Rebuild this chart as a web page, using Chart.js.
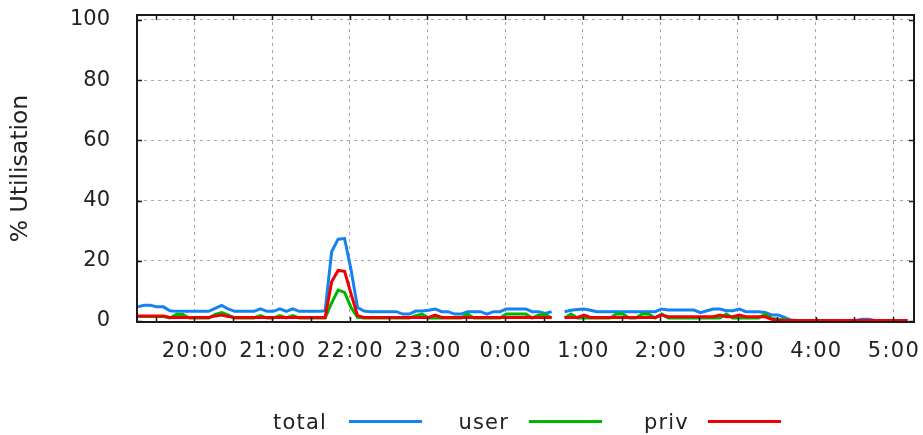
<!DOCTYPE html>
<html><head><meta charset="utf-8">
<script src="https://cdn.jsdelivr.net/npm/chart.js@4.4.1/dist/chart.umd.min.js"></script>
<style>html,body{margin:0;padding:0;background:#fff;}#wrap{width:923px;height:435px;}</style>
</head><body><div id="wrap"><canvas id="c" width="923" height="435"></canvas></div>
<script>
// ---- data ----
const seriesNames = ['total', 'user', 'priv'];
const seriesColors = ['#1482f0', '#00b400', '#f00000'];
const startMinute = 19 * 60 + 16;   // first sample 19:16
const sampleStep = 5;               // minutes between samples
const total = [4.7,5.2,5.2,4.7,4.7, 3.4,3.2,3.2,3.2,3.2,3.2,3.2, 4.2,5.2,4.0, 3.2,3.2,3.2,3.2, 4.0, 3.2,3.2, 4.0, 3.2, 4.0, 3.2,3.2,3.2,3.2, 3.4,
  23.0,27.2,27.4,17.0,4.5, 3.3, 3.1,3.1,3.1,3.1,3.1, 2.3,2.3, 3.3,3.3, 3.6,4.0, 3.1,3.1, 2.3,2.3, 3.1,3.1,3.1, 2.3, 3.1,3.1, 4.0,4.0,4.0,4.0, 3.1, 3.1,2.5, 3.1,
  null,
  3.1,3.6,3.8,4.0,3.6, 3.1,3.1,3.1,3.1,3.1, 3.1,3.1,3.1,3.1,3.1, 4.0, 3.65,3.65,3.65,3.65,3.65, 2.8,3.4,4.0,4.0,3.4,3.4,4.0, 3.1,3.1,3.1, 2.8,2.0,2.0,1.2,0.3,
  0.15,0.15,0.15,0.15,0.15,0.15,0.15,0.15,0.15,0.15, 0.6,0.6, 0.15,0.15,0.15,0.15,0.15,0.15];
const user = [1.5,1.5,1.5,1.5,1.5, 1.0,2.2,2.2,1.0,1.0,1.0,1.0, 2.2,2.8,2.0, 1.0,1.0,1.0,1.0, 1.8, 1.0,1.0, 1.8, 1.0, 1.8, 1.0,1.0,1.0,1.0,1.0,
  6.0,10.3,9.5,4.5,1.2, 1.0,1.0,1.0,1.0,1.0,1.0,1.0,1.0, 1.8,2.3, 1.0,1.0,1.0,1.0,1.0,1.0, 2.3, 1.0,1.0,1.0,1.0,1.0, 2.3,2.3,2.3,2.3, 1.0, 2.0,2.2, 1.0,
  null,
  1.0,2.3, 1.0,1.0,1.0,1.0,1.0,1.0, 2.3,2.3, 1.0,1.0, 2.3,2.3, 1.0, 2.3, 1.0,1.0,1.0,1.0,1.0,1.0,1.0,1.0,1.0, 2.3, 1.0,1.0,1.0,1.0,1.0, 2.3,0.8,0.6,0.5,0.1,
  0.05,0.05,0.05,0.05,0.05,0.05,0.05,0.05,0.05,0.05,0.05,0.05,0.05,0.05,0.05,0.05,0.05,0.05];
const priv = [1.7,1.7,1.7,1.7,1.7, 1.2,1.2,1.2,1.2,1.2,1.2,1.2, 1.7,2.0,1.5, 1.2,1.2,1.2,1.2,1.2,1.2,1.2,1.2,1.2,1.2,1.2,1.2,1.2,1.2,1.2,
  13.0,16.8,16.5,9.0,1.8, 1.2,1.2,1.2,1.2,1.2,1.2,1.2,1.2,1.2,1.2,1.2, 2.0, 1.2,1.2,1.2,1.2,1.2,1.2,1.2,1.2,1.2,1.2,1.2,1.2,1.2,1.2,1.2,1.2,1.2,1.2,
  null,
  1.2,1.2,1.2, 2.0, 1.2,1.2,1.2,1.2,1.2,1.2,1.2,1.2,1.2,1.2,1.2, 2.0, 1.4,1.4,1.4,1.4,1.4,1.4,1.4,1.4, 2.0, 1.4,1.4, 2.0, 1.4,1.4,1.4,1.4, 0.6,0.15,
  0.15,0.15,0.15,0.15,0.15,0.15,0.15,0.15,0.15,0.15,0.15,0.15,0.15,0.15,0.15,0.15,0.15,0.15,0.15,0.15];
const hourValues = [1200,1260,1320,1380,1440,1500,1560,1620,1680,1740]; // minutes from 00:00 of first day
const hourLabels = ['20:00','21:00','22:00','23:00','0:00','1:00','2:00','3:00','4:00','5:00'];
const yTickValues = [0,20,40,60,80,100];
const yTitle = '% Utilisation';

// ---- chart ----
const FAMILY = "'DejaVu Sans', sans-serif";
const FONT = {family: FAMILY, size: 21};
const TEXT = '#222222';
const toPoints = arr => arr.map((v, i) => ({x: startMinute + i * sampleStep, y: v}));
const seriesData = [total, user, priv];

const framePlugin = {
  id: 'frame',
  afterDatasetsDraw(chart) {
    const {ctx, chartArea: a, scales: {x, y}} = chart;
    ctx.save();
    ctx.strokeStyle = '#1a1a1a';
    ctx.lineWidth = 1.5;
    ctx.beginPath();
    const marks = [];
    hourValues.forEach(v => { marks.push(v - 30, v); });
    marks.forEach(v => {
      const px = Math.round(x.getPixelForValue(v)) + 0.5;
      if (px < a.left || px > a.right) return;
      ctx.moveTo(px, a.bottom); ctx.lineTo(px, a.bottom - 5);
      ctx.moveTo(px, a.top); ctx.lineTo(px, a.top + 5);
    });
    yTickValues.forEach(v => {
      const py = Math.round(y.getPixelForValue(v)) + 0.5;
      ctx.moveTo(a.left, py); ctx.lineTo(a.left + 5, py);
      ctx.moveTo(a.right, py); ctx.lineTo(a.right - 5, py);
    });
    ctx.stroke();
    ctx.lineWidth = 2;
    ctx.strokeRect(a.left, a.top, a.right - a.left, a.bottom - a.top);
    ctx.restore();
  },
  afterDraw(chart) {
    // x tick labels (drawn here to allow gnuplot-like glyph spacing)
    const {ctx, scales: {x}} = chart;
    ctx.save();
    ctx.font = FONT.size + 'px ' + FAMILY;
    ctx.fillStyle = TEXT;
    ctx.textAlign = 'center';
    ctx.textBaseline = 'middle';
    if ('letterSpacing' in ctx) ctx.letterSpacing = '1.3px';
    hourValues.forEach((v, i) => {
      ctx.fillText(hourLabels[i], x.getPixelForValue(v) + 0.7, 352);
    });
    ctx.restore();
  }
};

const keyPlugin = {
  id: 'key',
  afterDraw(chart) {
    const {ctx} = chart;
    const textRight = [327, 509, 689];
    const lineStart = [349, 529, 708];
    ctx.save();
    ctx.font = FONT.size + 'px ' + FAMILY;
    ctx.fillStyle = TEXT;
    ctx.textAlign = 'right';
    ctx.textBaseline = 'alphabetic';
    if ('letterSpacing' in ctx) ctx.letterSpacing = '1.2px';
    chart.data.datasets.forEach((ds, i) => {
      ctx.fillText(ds.label, textRight[i], 429);
    });
    if ('letterSpacing' in ctx) ctx.letterSpacing = '0px';
    chart.data.datasets.forEach((ds, i) => {
      ctx.strokeStyle = ds.borderColor;
      ctx.lineWidth = 3;
      ctx.beginPath();
      ctx.moveTo(lineStart[i], 421.5);
      ctx.lineTo(lineStart[i] + 73, 421.5);
      ctx.stroke();
    });
    ctx.restore();
  }
};

new Chart(document.getElementById('c'), {
  type: 'line',
  data: {
    datasets: seriesNames.map((name, i) => ({
      label: name,
      data: toPoints(seriesData[i]),
      borderColor: seriesColors[i],
      backgroundColor: seriesColors[i],
      order: 3 - i
    }))
  },
  options: {
    responsive: false,
    animation: false,
    spanGaps: false,
    elements: {
      line: {borderWidth: 3, tension: 0, borderCapStyle: 'butt', borderJoinStyle: 'miter'},
      point: {radius: 0, hoverRadius: 0}
    },
    layout: {padding: {left: 0, right: 9, top: 15, bottom: 0}},
    plugins: {legend: {display: false}, tooltip: {enabled: false}},
    scales: {
      x: {
        type: 'linear', min: 1155.6, max: 1756,
        afterBuildTicks: s => { s.ticks = hourValues.map(v => ({value: v})); },
        afterFit: s => { s.height = 113; s.paddingLeft = 0; s.paddingRight = 0; },
        grid: {color: '#a8a8a8', lineWidth: 1, drawTicks: false},
        border: {display: false, dash: [3, 4]},
        ticks: {display: false, callback: (v, i) => hourLabels[i]}
      },
      y: {
        min: -0.33, max: 101.66,
        afterBuildTicks: s => { s.ticks = yTickValues.map(v => ({value: v})); },
        afterFit: s => { s.width = 137; s.paddingTop = 0; s.paddingBottom = 0; },
        grid: {color: c => (c.tick && c.tick.value === 0) ? 'rgba(0,0,0,0)' : '#a8a8a8', lineWidth: 1, drawTicks: false},
        border: {display: false, dash: [3, 4]},
        ticks: {padding: 27, font: FONT, color: TEXT},
        title: {display: true, text: yTitle, font: {family: FAMILY, size: 23.5}, color: TEXT, padding: {top: 7, bottom: 0}}
      }
    }
  },
  plugins: [framePlugin, keyPlugin]
});
</script>
</body></html>
